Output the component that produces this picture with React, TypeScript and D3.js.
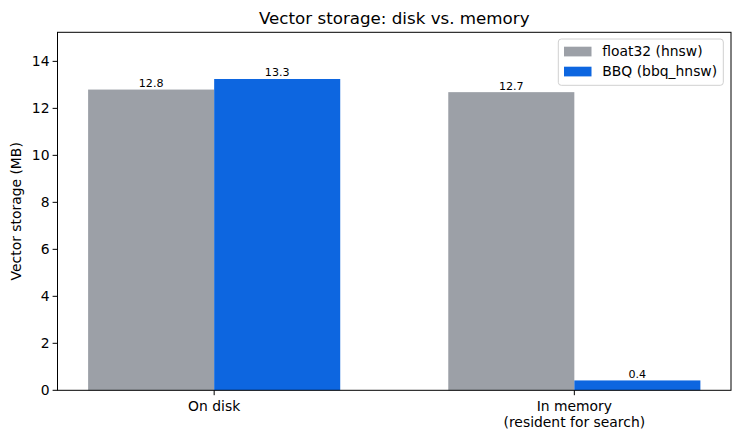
import React from "react";
import * as d3 from "d3";

const categories = ["On disk", "In memory\n(resident for search)"];
const seriesNames = ["float32 (hnsw)", "BBQ (bbq_hnsw)"];
const float32Values = [12.8, 12.69];
const bbqValues = [13.25, 0.42];
const yTicks = [0, 2, 4, 6, 8, 10, 12, 14];
const colors = ["#9ca0a7", "#0d66e0"];

const W = 740, H = 440;
const M = { left: 57.5, right: 731, top: 32.3, bottom: 390.3 };
const FONT = "DejaVu Sans, sans-serif";

export default function App() {
  const series = [float32Values, bbqValues];
  const ymax = d3.max(bbqValues.concat(float32Values))! * 1.15;
  const y = d3.scaleLinear().domain([0, ymax]).range([M.bottom, M.top]);
  const x = d3.scaleLinear().domain([-0.435, 1.435]).range([M.left, M.right]);
  const bw = 0.35;
  return (
    <svg width={W} height={H} style={{ position: "absolute", left: 0, top: 0 }} fontFamily={FONT}>
      <rect x={0} y={0} width={W} height={H} fill="#fff" />
      {series.map((vals, si) =>
        vals.map((v, ci) => {
          const x0 = ci + (si === 0 ? -bw : 0);
          return (
            <g key={`${si}-${ci}`}>
              <rect x={x(x0)} y={y(v)} width={x(x0 + bw) - x(x0)} height={y(0) - y(v)} fill={colors[si]} />
              <text x={x(x0 + bw / 2)} y={y(v) - 2.5} textAnchor="middle" fontSize={11.1} fill="#000">
                {v.toFixed(1)}
              </text>
            </g>
          );
        })
      )}
      <rect x={M.left} y={M.top} width={M.right - M.left} height={M.bottom - M.top} fill="none" stroke="#000" strokeWidth={1} />
      {yTicks.map((t) => (
        <g key={t}>
          <line x1={M.left} x2={M.left - 4.9} y1={y(t)} y2={y(t)} stroke="#000" strokeWidth={1} />
          <text x={M.left - 8} y={y(t)} dy="0.35em" textAnchor="end" fontSize={13.9}>{t}</text>
        </g>
      ))}
      {categories.map((c, i) => (
        <g key={i}>
          <line x1={x(i)} x2={x(i)} y1={M.bottom} y2={M.bottom + 4.9} stroke="#000" strokeWidth={1} />
          {c.split("\n").map((ln, j) => (
            <text key={j} x={x(i)} y={M.bottom + 20.5 + j * 16.2} textAnchor="middle" fontSize={13.9}>{ln}</text>
          ))}
        </g>
      ))}
      <text transform={`translate(21,${(M.top + M.bottom) / 2}) rotate(-90)`} textAnchor="middle" fontSize={13.9}>
        Vector storage (MB)
      </text>
      <text x={(M.left + M.right) / 2} y={24} textAnchor="middle" fontSize={16.7}>
        Vector storage: disk vs. memory
      </text>
      <g>
        <rect x={558.3} y={39} width={165} height={46.3} rx={3} fill="#fff" fillOpacity={0.8} stroke="#d0d0d0" strokeWidth={1} />
        {seriesNames.map((n, i) => (
          <g key={n}>
            <rect x={564} y={46.7 + i * 20} width={27.5} height={9.7} fill={colors[i]} />
            <text x={602.3} y={51.5 + i * 20} dy="0.35em" fontSize={13.9}>{n}</text>
          </g>
        ))}
      </g>
    </svg>
  );
}
